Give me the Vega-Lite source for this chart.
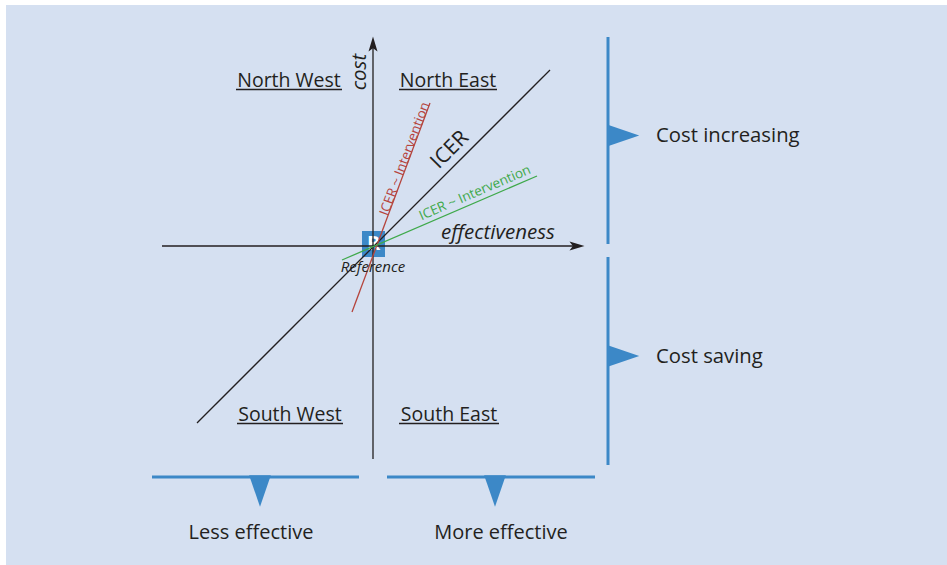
{
  "$schema": "https://vega.github.io/schema/vega-lite/v6.json",
  "width": 947,
  "height": 565,
  "autosize": {"type": "fit", "contains": "padding"},
  "padding": 0,
  "background": "#ffffff",
  "config": {"view": {"stroke": null}},
  "datasets": {
    "panel": [{"x": -367, "x2": 574, "y": 241, "y2": -319}],
    "black_lines": [
      {"name": "effectiveness axis", "x": -211, "y": 0, "x2": 205, "y2": 0},
      {"name": "cost axis", "x": 0, "y": -213, "x2": 0, "y2": 203},
      {"name": "ICER", "x": -176, "y": -177, "x2": 177, "y2": 176}
    ],
    "intervention_lines": [
      {"kind": "steeper", "x": -21, "y": -66, "x2": 57, "y2": 143, "label": "ICER ~ Intervention", "lx": 32, "ly": 87, "angle": -69.5},
      {"kind": "flatter", "x": -31, "y": -14, "x2": 164, "y2": 70, "label": "ICER ~ Intervention", "lx": 102, "ly": 53, "angle": -23.3}
    ],
    "arrows": [
      {"dir": "arrow-right", "x": 204, "y": 0},
      {"dir": "arrow-up", "x": 0, "y": 202}
    ],
    "reference": [{"x": -11, "x2": 12, "y": 15, "y2": -11, "cx": 0.5, "cy": 2, "letter": "R", "label": "Reference", "lx": 0, "ly": -21}],
    "bars": [
      {"x": 235, "y": 209, "x2": 235, "y2": 2},
      {"x": 235, "y": -11, "x2": 235, "y2": -219},
      {"x": -221, "y": -231, "x2": -14, "y2": -231},
      {"x": 14, "y": -231, "x2": 222, "y2": -231}
    ],
    "markers": [
      {"dir": "flag-right", "x": 250.5, "y": 110.5},
      {"dir": "flag-right", "x": 250.5, "y": -110},
      {"dir": "flag-down", "x": -113, "y": -245},
      {"dir": "flag-down", "x": 122, "y": -245}
    ],
    "quadrants": [
      {"label": "North West", "x": -84, "y": 159, "u1": -137, "u2": -31, "uy": 156.5},
      {"label": "North East", "x": 75, "y": 159, "u1": 26, "u2": 124, "uy": 156.5},
      {"label": "South West", "x": -83, "y": -175, "u1": -136, "u2": -30, "uy": -177.5},
      {"label": "South East", "x": 76, "y": -175, "u1": 26, "u2": 126, "uy": -177.5}
    ],
    "axis_titles": [
      {"label": "cost", "x": -13, "y": 174, "angle": -90},
      {"label": "effectiveness", "x": 125, "y": 13, "angle": 0}
    ],
    "icer_label": [{"label": "ICER", "x": 77, "y": 96, "angle": -45}],
    "side_labels": [
      {"label": "Cost increasing", "x": 283, "y": 110},
      {"label": "Cost saving", "x": 283, "y": -111}
    ],
    "bottom_labels": [
      {"label": "Less effective", "x": -122, "y": -287},
      {"label": "More effective", "x": 128, "y": -287}
    ]
  },
  "encoding": {
    "x": {"field": "x", "type": "quantitative", "scale": {"domain": [-373, 574], "nice": false, "zero": false}, "axis": null},
    "y": {"field": "y", "type": "quantitative", "scale": {"domain": [-319, 246], "nice": false, "zero": false}, "axis": null}
  },
  "layer": [
    {
      "data": {"name": "panel"},
      "mark": {"type": "rect", "color": "#d5e0f1"},
      "encoding": {"x2": {"field": "x2"}, "y2": {"field": "y2"}}
    },
    {
      "data": {"name": "reference"},
      "mark": {"type": "rect", "color": "#3c88c7"},
      "encoding": {"x2": {"field": "x2"}, "y2": {"field": "y2"}}
    },
    {
      "data": {"name": "reference"},
      "mark": {"type": "text", "font": "Open Sans", "fontSize": 20, "fontWeight": "bold", "color": "#ffffff", "align": "center", "baseline": "middle"},
      "encoding": {"x": {"field": "cx"}, "y": {"field": "cy"}, "text": {"field": "letter"}}
    },
    {
      "data": {"name": "black_lines"},
      "mark": {"type": "rule", "color": "#231f20", "strokeWidth": 1.3},
      "encoding": {"x2": {"field": "x2"}, "y2": {"field": "y2"}}
    },
    {
      "data": {"name": "intervention_lines"},
      "mark": {"type": "rule", "strokeWidth": 1.3},
      "encoding": {
        "x2": {"field": "x2"}, "y2": {"field": "y2"},
        "color": {"field": "kind", "type": "nominal", "scale": {"domain": ["steeper", "flatter"], "range": ["#b5443d", "#3fa94b"]}, "legend": null}
      }
    },
    {
      "data": {"name": "intervention_lines"},
      "mark": {"type": "text", "font": "Open Sans", "fontSize": 13.5, "align": "center", "baseline": "middle"},
      "encoding": {
        "x": {"field": "lx"}, "y": {"field": "ly"},
        "text": {"field": "label"},
        "angle": {"field": "angle", "type": "quantitative", "scale": null},
        "color": {"field": "kind", "type": "nominal", "scale": {"domain": ["steeper", "flatter"], "range": ["#b5443d", "#3fa94b"]}, "legend": null}
      }
    },
    {
      "data": {"name": "arrows"},
      "mark": {"type": "point", "filled": true, "opacity": 1, "color": "#231f20", "size": 225},
      "encoding": {
        "shape": {"field": "dir", "type": "nominal", "scale": {"domain": ["arrow-right", "arrow-up", "flag-right", "flag-down"], "range": ["M1,0L-1,-0.6L-0.55,0L-1,0.6Z", "M0,-1L-0.6,1L0,0.55L0.6,1Z", "M-1,-0.68L1,0L-1,0.68Z", "M-0.69,-1L0.69,-1L0,1Z"]}, "legend": null}
      }
    },
    {
      "data": {"name": "reference"},
      "mark": {"type": "text", "font": "Open Sans", "fontSize": 15, "fontStyle": "italic", "color": "#231f20", "align": "center", "baseline": "middle"},
      "encoding": {"x": {"field": "lx"}, "y": {"field": "ly"}, "text": {"field": "label"}}
    },
    {
      "data": {"name": "bars"},
      "mark": {"type": "rule", "color": "#3c88c7", "strokeWidth": 3},
      "encoding": {"x2": {"field": "x2"}, "y2": {"field": "y2"}}
    },
    {
      "data": {"name": "markers"},
      "mark": {"type": "point", "filled": true, "opacity": 1, "color": "#3c88c7", "size": 990},
      "encoding": {
        "shape": {"field": "dir", "type": "nominal", "scale": {"domain": ["arrow-right", "arrow-up", "flag-right", "flag-down"], "range": ["M1,0L-1,-0.6L-0.55,0L-1,0.6Z", "M0,-1L-0.6,1L0,0.55L0.6,1Z", "M-1,-0.68L1,0L-1,0.68Z", "M-0.69,-1L0.69,-1L0,1Z"]}, "legend": null}
      }
    },
    {
      "data": {"name": "quadrants"},
      "mark": {"type": "text", "font": "Open Sans", "fontSize": 19.5, "color": "#231f20", "align": "center", "baseline": "alphabetic"},
      "encoding": {"text": {"field": "label"}}
    },
    {
      "data": {"name": "quadrants"},
      "mark": {"type": "rule", "color": "#231f20", "strokeWidth": 1.3},
      "encoding": {"x": {"field": "u1"}, "x2": {"field": "u2"}, "y": {"field": "uy"}}
    },
    {
      "data": {"name": "axis_titles"},
      "mark": {"type": "text", "font": "Open Sans", "fontSize": 20.5, "fontStyle": "italic", "color": "#231f20", "align": "center", "baseline": "middle"},
      "encoding": {"text": {"field": "label"}, "angle": {"field": "angle", "type": "quantitative", "scale": null}}
    },
    {
      "data": {"name": "icer_label"},
      "mark": {"type": "text", "font": "Open Sans", "fontSize": 21, "color": "#231f20", "align": "center", "baseline": "middle"},
      "encoding": {"text": {"field": "label"}, "angle": {"field": "angle", "type": "quantitative", "scale": null}}
    },
    {
      "data": {"name": "side_labels"},
      "mark": {"type": "text", "font": "Open Sans", "fontSize": 20.3, "color": "#231f20", "align": "left", "baseline": "middle"},
      "encoding": {"text": {"field": "label"}}
    },
    {
      "data": {"name": "bottom_labels"},
      "mark": {"type": "text", "font": "Open Sans", "fontSize": 20, "color": "#231f20", "align": "center", "baseline": "middle"},
      "encoding": {"text": {"field": "label"}}
    }
  ]
}
